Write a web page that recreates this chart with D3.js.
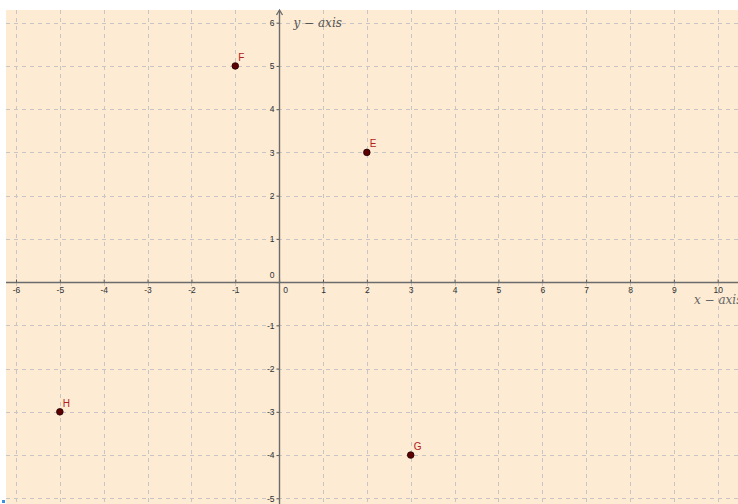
<!DOCTYPE html>
<html>
<head>
<meta charset="utf-8">
<script src="https://cdn.jsdelivr.net/npm/d3@7"></script>
<style>
  body { margin: 0; background: #fff; }
  svg { display: block; }
</style>
</head>
<body>
<div id="chart"></div>
<script>
// points of the figure
const names = ["F", "E", "H", "G"];
const xs = [-1, 2, -5, 3];
const ys = [5, 3, -3, -4];

const xTicks = [-6, -5, -4, -3, -2, -1, 0, 1, 2, 3, 4, 5, 6, 7, 8, 9, 10];
const yTicks = [-5, -4, -3, -2, -1, 0, 1, 2, 3, 4, 5, 6];

const width = 738, height = 504;
const padLeft = 6, padTop = 10;

const x = d3.scaleLinear().domain([-6, 10]).range([16, 717.7]);
const y = d3.scaleLinear().domain([6, -5]).range([22.7, 498.3]);

const svg = d3.select("#chart").append("svg")
    .attr("width", width)
    .attr("height", height)
    .style("font-family", "'Liberation Sans', Arial, sans-serif");

// drawing pad
svg.append("rect")
    .attr("x", padLeft).attr("y", padTop)
    .attr("width", width - padLeft).attr("height", height - padTop)
    .attr("fill", "#fdebd3");

// dashed grid
const grid = svg.append("g")
    .attr("stroke", "#c8c6c4")
    .attr("stroke-width", 1)
    .attr("stroke-dasharray", "4,4");

grid.selectAll("line.v")
  .data(xTicks)
  .join("line")
    .attr("class", "v")
    .attr("x1", d => Math.round(x(d)) + 0.5)
    .attr("x2", d => Math.round(x(d)) + 0.5)
    .attr("y1", padTop).attr("y2", height);

grid.selectAll("line.h")
  .data(yTicks)
  .join("line")
    .attr("class", "h")
    .attr("y1", d => Math.round(y(d)) + 0.5)
    .attr("y2", d => Math.round(y(d)) + 0.5)
    .attr("x1", padLeft).attr("x2", width);

// axes
const x0 = Math.round(x(0)) + 0.5;
const y0 = Math.round(y(0)) + 0.5;
const fmt = d => String(d);   // plain hyphen minus, as in the picture

const xAxis = svg.append("g")
    .attr("transform", `translate(0,${y0})`)
    .call(d3.axisBottom(x).tickValues(xTicks).tickFormat(fmt)
      .tickSizeInner(-3).tickSizeOuter(0).tickPadding(4));

const yAxis = svg.append("g")
    .attr("transform", `translate(${x0},0)`)
    .call(d3.axisLeft(y).tickValues(yTicks).tickFormat(fmt)
      .tickSizeInner(3).tickSizeOuter(0).tickPadding(2));

[xAxis, yAxis].forEach(a => {
  a.select(".domain").remove();
  a.selectAll(".tick line").attr("stroke", "#555").attr("stroke-width", 1);
  a.selectAll(".tick text")
      .attr("fill", "#333")
      .style("font-size", "8.5px")
      .style("font-family", "'Liberation Sans', Arial, sans-serif");
});

// origin labels sit off the axis lines
xAxis.selectAll(".tick").filter(d => d === 0).select("text").attr("x", 6);
yAxis.selectAll(".tick").filter(d => d === 0).select("text").attr("dy", "-0.5em").attr("x", -5);

svg.append("line")
    .attr("x1", padLeft).attr("x2", width)
    .attr("y1", y0).attr("y2", y0)
    .attr("stroke", "#6b6b6b").attr("stroke-width", 1.4);

svg.append("line")
    .attr("x1", x0).attr("x2", x0)
    .attr("y1", padTop + 1).attr("y2", height)
    .attr("stroke", "#6b6b6b").attr("stroke-width", 1.4);

svg.append("path")
    .attr("d", `M${x0 - 3},${padTop + 5}L${x0},${padTop}L${x0 + 3},${padTop + 5}`)
    .attr("fill", "none")
    .attr("stroke", "#6b6b6b").attr("stroke-width", 1.3);

// axis captions
svg.append("text")
    .attr("x", x0 + 14).attr("y", y(6) + 4)
    .attr("fill", "#555")
    .style("font-family", "'DejaVu Serif', 'Liberation Serif', serif")
    .style("font-style", "italic")
    .style("font-size", "12px")
    .text("y − axis");

svg.append("text")
    .attr("x", 694).attr("y", y0 + 21)
    .attr("fill", "#666")
    .style("font-family", "'DejaVu Serif', 'Liberation Serif', serif")
    .style("font-style", "italic")
    .style("font-size", "12px")
    .text("x − axis");

// points
const pts = names.map((n, i) => ({name: n, x: xs[i], y: ys[i]}));

const pt = svg.append("g")
  .selectAll("g")
  .data(pts)
  .join("g")
    .attr("transform", d => `translate(${x(d.x)},${y(d.y)})`);

pt.append("circle")
    .attr("r", 3.3)
    .attr("fill", "#5e0000")
    .attr("stroke", "#1a0000")
    .attr("stroke-width", 0.8);

pt.append("text")
    .attr("x", 3)
    .attr("y", -5)
    .attr("fill", "#b52020")
    .style("font-size", "10px")
    .text(d => d.name);

// little handle in the corner
svg.append("rect")
    .attr("x", 2).attr("y", 500).attr("width", 3).attr("height", 3)
    .attr("fill", "#3d8fe0");
</script>
</body>
</html>
